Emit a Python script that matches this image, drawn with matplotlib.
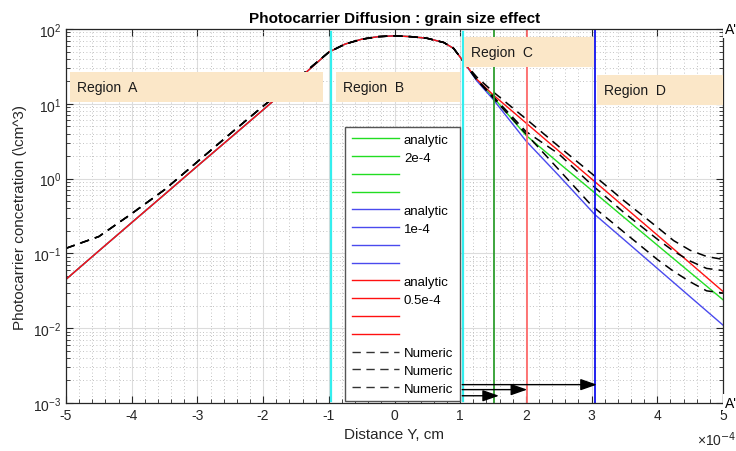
import matplotlib
matplotlib.use("Agg")
import matplotlib.pyplot as plt
from matplotlib.lines import Line2D
from matplotlib.patches import Rectangle
from matplotlib.ticker import MultipleLocator, LogLocator, NullFormatter

plt.rcParams["font.family"] = ["Liberation Sans", "DejaVu Sans"]
plt.rcParams["axes.unicode_minus"] = False

# distance in units of 1e-4 cm
x_center = [-5, -4.5, -4, -3.5, -3, -2.5, -2, -1.5, -1, -0.75, -0.5, -0.25,
            0, 0.25, 0.5, 0.75, 0.9, 1.04]
analytic_center = [0.045, 0.108, 0.258, 0.614, 1.47, 3.49, 8.3, 20, 49, 63, 73, 79,
                   81, 79, 75, 66, 55, 37.7]
numeric_center = [0.117, 0.168, 0.34, 0.71, 1.68, 3.98, 9.3, 20.9, 49, 63, 73, 79,
                  81, 79, 75, 66, 55, 37.7]

# analytic tails past the generation region
x_tail = [1.04, 1.25, 1.5, 2.0, 2.5, 3.0, 3.5, 4.0, 4.5, 5.0]
x_tail_blue = [1.04, 1.25, 1.5, 2.0, 2.5, 3.05, 3.5, 4.0, 4.5, 5.0]
green_tail = [37.7, 20.9, 12.3, 3.8, 1.62, 0.70, 0.30, 0.129, 0.0556, 0.024]
blue_tail = [37.7, 20.4, 11.5, 3.2, 1.1, 0.33, 0.151, 0.063, 0.0263, 0.011]
red_tail = [37.7, 21.4, 13.2, 5.56, 2.34, 0.99, 0.417, 0.176, 0.074, 0.031]

# numeric tails
x_num = [1.04, 1.25, 1.5, 2, 2.5, 3, 3.5, 4, 4.25, 4.5, 4.75, 5]
numeric_tails = [
    [37.7, 22.9, 14.5, 6.3, 2.69, 1.17, 0.50, 0.224, 0.148, 0.110, 0.091, 0.083],
    [37.7, 21.4, 12.6, 4.27, 2.14, 0.83, 0.347, 0.155, 0.107, 0.079, 0.063, 0.059],
    [37.7, 20.9, 12.0, 3.98, 1.32, 0.437, 0.19, 0.083, 0.0575, 0.0417, 0.0316, 0.0295],
]

# region boundaries and grain boundaries
region_edges = [-0.97, 1.04]
grain_edges = [1.51, 2.02, 3.05]
grain_colors = ["#2e9e2e", "#ff6b6b", "#1010ee"]
arrow_start = 1.03
arrow_ends = [1.59, 2.02, 3.08]
arrow_levels = [0.00125, 0.00151, 0.00176]

GREEN = "#22dd22"
BLUE = "#4a4aee"
RED = "#ff1010"
BEIGE = "#fbe7c8"

fig = plt.figure(figsize=(7.36, 4.52), dpi=100)
ax = fig.add_axes([66 / 736, 48 / 452, 657 / 736, 374 / 452])

# analytic curves (all three coincide through regions A and B)
for xs_t, ys_t, c in [(x_tail, green_tail, GREEN),
                      (x_tail_blue, blue_tail, BLUE),
                      (x_tail, red_tail, RED)]:
    ax.semilogy(x_center + xs_t[1:], analytic_center + ys_t[1:], color=c, lw=1.0)

# numeric curves
for tail in numeric_tails:
    ax.semilogy(x_center + x_num[1:], numeric_center + tail[1:], color="black",
                lw=1.1, ls=(0, (6, 4)))

for xb in region_edges:
    ax.plot([xb, xb], [0.00107, 90], color="#33eeee", lw=1.6)
for xb, c in zip(grain_edges, grain_colors):
    ax.plot([xb, xb], [0.001, 100], color=c, lw=1.3)

for xe, yl in zip(arrow_ends, arrow_levels):
    ax.annotate("", xy=(xe, yl), xytext=(arrow_start, yl),
                arrowprops=dict(arrowstyle="-|>,head_length=1.0,head_width=0.35",
                                color="black", lw=1.0, shrinkA=0, shrinkB=0))

ax.set_xlim(-5, 5)
ax.set_ylim(1e-3, 1e2)
ax.xaxis.set_major_locator(MultipleLocator(1))
ax.xaxis.set_minor_locator(MultipleLocator(0.2))
ax.yaxis.set_major_locator(LogLocator(base=10, numticks=10))
ax.yaxis.set_minor_locator(LogLocator(base=10, subs=range(2, 10), numticks=20))
ax.yaxis.set_minor_formatter(NullFormatter())

ax.grid(True, which="major", color="#dcdcdc", lw=0.8)
ax.grid(True, which="minor", color="#b0b0b0", lw=0.6, ls=(0, (1, 3)))
ax.set_axisbelow(True)
ax.tick_params(which="both", direction="in", top=True, right=True,
               colors="#262626", labelsize=10)
ax.tick_params(which="major", length=5)
ax.tick_params(which="minor", length=3, top=False)
for sp in ax.spines.values():
    sp.set_color("#262626")
    sp.set_linewidth(0.9)

ax.set_title("Photocarrier Diffusion : grain size effect", fontsize=11,
             fontweight="bold", pad=5)
ax.set_xlabel("Distance Y, cm", fontsize=11, color="#262626", labelpad=4)
ax.set_ylabel("Photocarrier concetration (\\cm^3)", fontsize=11, color="#262626",
              labelpad=4)
ax.text(1.02, -0.096, "\u00d710$^{-4}$", transform=ax.transAxes, ha="right",
        va="center", fontsize=10, color="#262626")

# region labels
regions = [("Region  A", 0.006, 0.805, 0.385), ("Region  B", 0.411, 0.805, 0.189),
           ("Region  C", 0.606, 0.898, 0.198), ("Region  D", 0.808, 0.797, 0.192)]
for name, x0, y0, w in regions:
    ax.add_patch(Rectangle((x0, y0), w, 0.08, transform=ax.transAxes,
                           facecolor=BEIGE, edgecolor="none", zorder=4))
    ax.text(x0 + 0.011, y0 + 0.04, name, transform=ax.transAxes, va="center",
            ha="left", fontsize=10, color="#1a1a1a", zorder=5)

for yy in [1.0, 0.0]:
    ax.text(1.003, yy, "A'", transform=ax.transAxes, va="center", ha="left",
            fontsize=10, clip_on=False, zorder=6,
            bbox=dict(facecolor="white", edgecolor="none", pad=1.5))

handles = [Line2D([], [], color=GREEN, lw=1)] * 4 + \
          [Line2D([], [], color=BLUE, lw=1)] * 4 + \
          [Line2D([], [], color=RED, lw=1)] * 4 + \
          [Line2D([], [], color="#333333", lw=1, ls=(0, (6, 4)))] * 3
labels = ["analytic", "2e-4", "", "", "analytic", "1e-4", "", "",
          "analytic", "0.5e-4", "", "", "Numeric", "Numeric", "Numeric"]
leg = ax.legend(handles, labels, loc="upper left", bbox_to_anchor=(0.425, 0.738),
                fontsize=9.5, handlelength=3.6, handletextpad=0.35, labelspacing=0.42,
                borderpad=0.5, borderaxespad=0, fancybox=False, framealpha=1,
                edgecolor="#555555")
leg.get_frame().set_linewidth(1.0)
leg.set_zorder(7)

fig.savefig("out.png", dpi=100)
